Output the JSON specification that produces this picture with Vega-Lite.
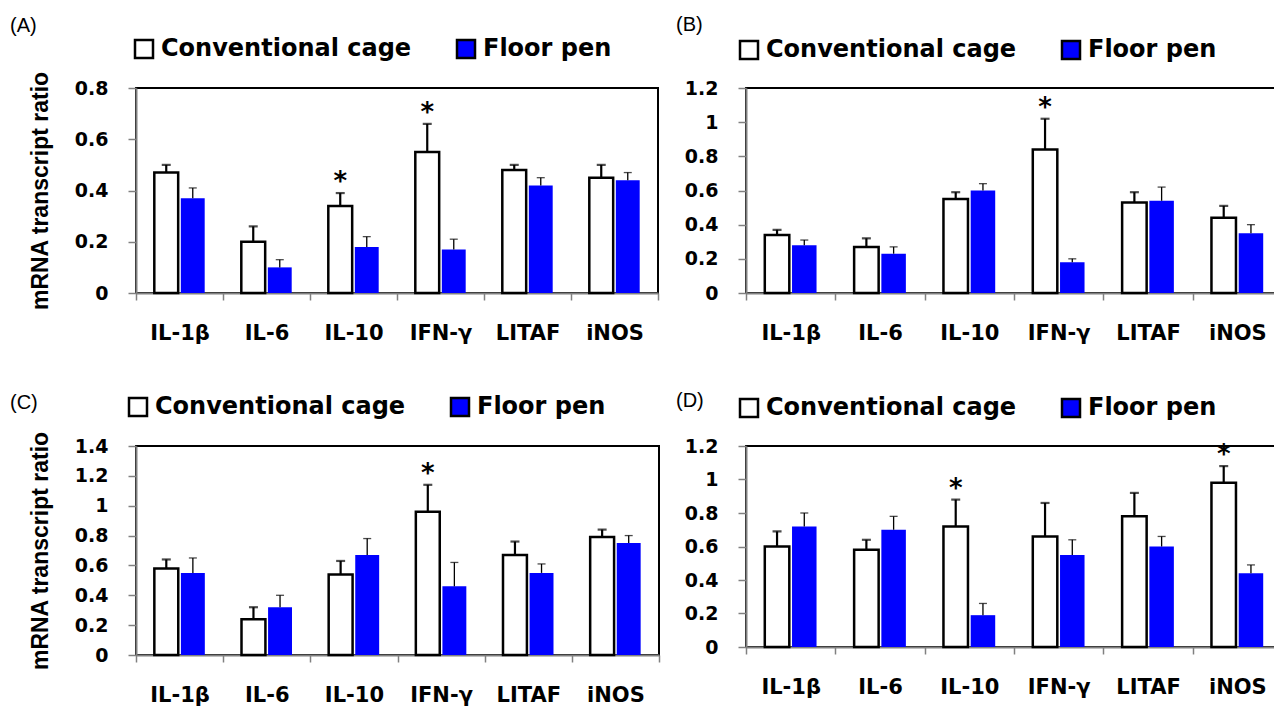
{
  "$schema": "https://vega.github.io/schema/vega-lite/v6.json",
  "background": "white",
  "padding": {"left": 9, "top": 14, "right": 0, "bottom": 0},
  "datasets": {
    "d": [
      {"panel":"A","gene":"IL-1β","group":"Conventional cage","value":0.47,"top":0.50,"sig":""},
      {"panel":"A","gene":"IL-1β","group":"Floor pen","value":0.37,"top":0.41,"sig":""},
      {"panel":"A","gene":"IL-6","group":"Conventional cage","value":0.20,"top":0.26,"sig":""},
      {"panel":"A","gene":"IL-6","group":"Floor pen","value":0.10,"top":0.13,"sig":""},
      {"panel":"A","gene":"IL-10","group":"Conventional cage","value":0.34,"top":0.39,"sig":"*"},
      {"panel":"A","gene":"IL-10","group":"Floor pen","value":0.18,"top":0.22,"sig":""},
      {"panel":"A","gene":"IFN-γ","group":"Conventional cage","value":0.55,"top":0.66,"sig":"*"},
      {"panel":"A","gene":"IFN-γ","group":"Floor pen","value":0.17,"top":0.21,"sig":""},
      {"panel":"A","gene":"LITAF","group":"Conventional cage","value":0.48,"top":0.50,"sig":""},
      {"panel":"A","gene":"LITAF","group":"Floor pen","value":0.42,"top":0.45,"sig":""},
      {"panel":"A","gene":"iNOS","group":"Conventional cage","value":0.45,"top":0.50,"sig":""},
      {"panel":"A","gene":"iNOS","group":"Floor pen","value":0.44,"top":0.47,"sig":""},

      {"panel":"B","gene":"IL-1β","group":"Conventional cage","value":0.34,"top":0.37,"sig":""},
      {"panel":"B","gene":"IL-1β","group":"Floor pen","value":0.28,"top":0.31,"sig":""},
      {"panel":"B","gene":"IL-6","group":"Conventional cage","value":0.27,"top":0.32,"sig":""},
      {"panel":"B","gene":"IL-6","group":"Floor pen","value":0.23,"top":0.27,"sig":""},
      {"panel":"B","gene":"IL-10","group":"Conventional cage","value":0.55,"top":0.59,"sig":""},
      {"panel":"B","gene":"IL-10","group":"Floor pen","value":0.60,"top":0.64,"sig":""},
      {"panel":"B","gene":"IFN-γ","group":"Conventional cage","value":0.84,"top":1.02,"sig":"*"},
      {"panel":"B","gene":"IFN-γ","group":"Floor pen","value":0.18,"top":0.20,"sig":""},
      {"panel":"B","gene":"LITAF","group":"Conventional cage","value":0.53,"top":0.59,"sig":""},
      {"panel":"B","gene":"LITAF","group":"Floor pen","value":0.54,"top":0.62,"sig":""},
      {"panel":"B","gene":"iNOS","group":"Conventional cage","value":0.44,"top":0.51,"sig":""},
      {"panel":"B","gene":"iNOS","group":"Floor pen","value":0.35,"top":0.40,"sig":""},

      {"panel":"C","gene":"IL-1β","group":"Conventional cage","value":0.58,"top":0.64,"sig":""},
      {"panel":"C","gene":"IL-1β","group":"Floor pen","value":0.55,"top":0.65,"sig":""},
      {"panel":"C","gene":"IL-6","group":"Conventional cage","value":0.24,"top":0.32,"sig":""},
      {"panel":"C","gene":"IL-6","group":"Floor pen","value":0.32,"top":0.40,"sig":""},
      {"panel":"C","gene":"IL-10","group":"Conventional cage","value":0.54,"top":0.63,"sig":""},
      {"panel":"C","gene":"IL-10","group":"Floor pen","value":0.67,"top":0.78,"sig":""},
      {"panel":"C","gene":"IFN-γ","group":"Conventional cage","value":0.96,"top":1.14,"sig":"*"},
      {"panel":"C","gene":"IFN-γ","group":"Floor pen","value":0.46,"top":0.62,"sig":""},
      {"panel":"C","gene":"LITAF","group":"Conventional cage","value":0.67,"top":0.76,"sig":""},
      {"panel":"C","gene":"LITAF","group":"Floor pen","value":0.55,"top":0.61,"sig":""},
      {"panel":"C","gene":"iNOS","group":"Conventional cage","value":0.79,"top":0.84,"sig":""},
      {"panel":"C","gene":"iNOS","group":"Floor pen","value":0.75,"top":0.80,"sig":""},

      {"panel":"D","gene":"IL-1β","group":"Conventional cage","value":0.60,"top":0.69,"sig":""},
      {"panel":"D","gene":"IL-1β","group":"Floor pen","value":0.72,"top":0.80,"sig":""},
      {"panel":"D","gene":"IL-6","group":"Conventional cage","value":0.58,"top":0.64,"sig":""},
      {"panel":"D","gene":"IL-6","group":"Floor pen","value":0.70,"top":0.78,"sig":""},
      {"panel":"D","gene":"IL-10","group":"Conventional cage","value":0.72,"top":0.88,"sig":"*"},
      {"panel":"D","gene":"IL-10","group":"Floor pen","value":0.19,"top":0.26,"sig":""},
      {"panel":"D","gene":"IFN-γ","group":"Conventional cage","value":0.66,"top":0.86,"sig":""},
      {"panel":"D","gene":"IFN-γ","group":"Floor pen","value":0.55,"top":0.64,"sig":""},
      {"panel":"D","gene":"LITAF","group":"Conventional cage","value":0.78,"top":0.92,"sig":""},
      {"panel":"D","gene":"LITAF","group":"Floor pen","value":0.60,"top":0.66,"sig":""},
      {"panel":"D","gene":"iNOS","group":"Conventional cage","value":0.98,"top":1.08,"sig":"*"},
      {"panel":"D","gene":"iNOS","group":"Floor pen","value":0.44,"top":0.49,"sig":""}
    ]
  },
  "bounds": "flush",
  "spacing": 358,
  "resolve": {
    "scale": {"x": "independent", "y": "independent", "xOffset": "independent", "fill": "independent"},
    "axis": {"x": "independent", "y": "independent"},
    "legend": {"fill": "independent"}
  },
  "vconcat": [
    {
      "bounds": "flush",
      "spacing": 88,
      "resolve": {
        "scale": {"x": "independent", "y": "independent", "xOffset": "independent", "fill": "independent"},
        "axis": {"x": "independent", "y": "independent"},
        "legend": {"fill": "independent"}
      },
      "hconcat": [
        {
          "width": 522, "height": 205,
          "title": {"text": "(A)", "anchor": "start", "frame": "group", "dx": -126, "dy": 3},
          "data": {"name": "d"},
          "transform": [{"filter": "datum.panel === 'A'"}],
          "encoding": {
            "x": {"field": "gene", "type": "nominal", "sort": ["IL-1β","IL-6","IL-10","IFN-γ","LITAF","iNOS"], "scale": {"paddingInner": 0, "paddingOuter": 0}, "axis": {"title": null}},
            "xOffset": {"field": "group", "type": "nominal", "scale": {"domain": ["Conventional cage","Floor pen"], "paddingInner": 0.1, "paddingOuter": 0.69}}
          },
          "layer": [
            {
              "mark": {"type": "bar"},
              "encoding": {
                "y": {"field": "value", "type": "quantitative", "scale": {"domain": [0, 0.8]}, "axis": {"title": "mRNA transcript ratio", "values": [0,0.2,0.4,0.6,0.8], "format": "~g"}},
                "fill": {"field": "group", "type": "nominal", "scale": {"domain": ["Conventional cage","Floor pen"], "range": ["white","#0000FF"]},
                  "legend": {"legendX": -4, "legendY": -51}},
                "stroke": {"condition": {"test": "datum.group === 'Conventional cage'", "value": "black"}, "value": null}
              }
            },
            {
              "mark": {"type": "rule", "color": "black"},
              "encoding": {
                "y": {"field": "value", "type": "quantitative", "scale": {"domain": [0, 0.8]}, "axis": {"title": "mRNA transcript ratio", "values": [0,0.2,0.4,0.6,0.8], "format": "~g"}},
                "y2": {"field": "top"},
                "strokeWidth": {"condition": {"test": "datum.group === 'Conventional cage'", "value": 2.2}, "value": 1.3}
              }
            },
            {
              "transform": [{"filter": "datum.group === 'Conventional cage'"}],
              "mark": {"type": "tick", "color": "black", "thickness": 2.2, "size": 9},
              "encoding": {"y": {"field": "top", "type": "quantitative", "scale": {"domain": [0, 0.8]}, "axis": {"title": "mRNA transcript ratio", "values": [0,0.2,0.4,0.6,0.8], "format": "~g"}}}
            },
            {
              "transform": [{"filter": "datum.group === 'Floor pen'"}],
              "mark": {"type": "tick", "color": "black", "thickness": 1.3, "size": 8},
              "encoding": {"y": {"field": "top", "type": "quantitative", "scale": {"domain": [0, 0.8]}, "axis": {"title": "mRNA transcript ratio", "values": [0,0.2,0.4,0.6,0.8], "format": "~g"}}}
            },
            {
              "transform": [{"filter": "datum.sig === '*'"}],
              "mark": {"type": "text", "font": "DejaVu Sans", "fontSize": 26, "fontWeight": "bold", "baseline": "alphabetic", "dy": -3, "color": "black"},
              "encoding": {"y": {"field": "top", "type": "quantitative", "scale": {"domain": [0, 0.8]}, "axis": {"title": "mRNA transcript ratio", "values": [0,0.2,0.4,0.6,0.8], "format": "~g"}}, "text": {"field": "sig"}}
            }
          ]
        },
        {
          "width": 536, "height": 205,
          "title": {"text": "(B)", "anchor": "start", "frame": "group", "dx": -70, "dy": 1},
          "data": {"name": "d"},
          "transform": [{"filter": "datum.panel === 'B'"}],
          "encoding": {
            "x": {"field": "gene", "type": "nominal", "sort": ["IL-1β","IL-6","IL-10","IFN-γ","LITAF","iNOS"], "scale": {"paddingInner": 0, "paddingOuter": 0}, "axis": {"title": null}},
            "xOffset": {"field": "group", "type": "nominal", "scale": {"domain": ["Conventional cage","Floor pen"], "paddingInner": 0.1, "paddingOuter": 0.69}}
          },
          "layer": [
            {
              "mark": {"type": "bar"},
              "encoding": {
                "y": {"field": "value", "type": "quantitative", "scale": {"domain": [0, 1.2]}, "axis": {"title": null, "values": [0,0.2,0.4,0.6,0.8,1,1.2], "format": "~g"}},
                "fill": {"field": "group", "type": "nominal", "scale": {"domain": ["Conventional cage","Floor pen"], "range": ["white","#0000FF"]},
                  "legend": {"legendX": -9, "legendY": -50}},
                "stroke": {"condition": {"test": "datum.group === 'Conventional cage'", "value": "black"}, "value": null}
              }
            },
            {
              "mark": {"type": "rule", "color": "black"},
              "encoding": {
                "y": {"field": "value", "type": "quantitative", "scale": {"domain": [0, 1.2]}, "axis": {"title": null, "values": [0,0.2,0.4,0.6,0.8,1,1.2], "format": "~g"}},
                "y2": {"field": "top"},
                "strokeWidth": {"condition": {"test": "datum.group === 'Conventional cage'", "value": 2.2}, "value": 1.3}
              }
            },
            {
              "transform": [{"filter": "datum.group === 'Conventional cage'"}],
              "mark": {"type": "tick", "color": "black", "thickness": 2.2, "size": 9},
              "encoding": {"y": {"field": "top", "type": "quantitative", "scale": {"domain": [0, 1.2]}, "axis": {"title": null, "values": [0,0.2,0.4,0.6,0.8,1,1.2], "format": "~g"}}}
            },
            {
              "transform": [{"filter": "datum.group === 'Floor pen'"}],
              "mark": {"type": "tick", "color": "black", "thickness": 1.3, "size": 8},
              "encoding": {"y": {"field": "top", "type": "quantitative", "scale": {"domain": [0, 1.2]}, "axis": {"title": null, "values": [0,0.2,0.4,0.6,0.8,1,1.2], "format": "~g"}}}
            },
            {
              "transform": [{"filter": "datum.sig === '*'"}],
              "mark": {"type": "text", "font": "DejaVu Sans", "fontSize": 26, "fontWeight": "bold", "baseline": "alphabetic", "dy": -3, "color": "black"},
              "encoding": {"y": {"field": "top", "type": "quantitative", "scale": {"domain": [0, 1.2]}, "axis": {"title": null, "values": [0,0.2,0.4,0.6,0.8,1,1.2], "format": "~g"}}, "text": {"field": "sig"}}
            }
          ]
        }
      ]
    },
    {
      "bounds": "flush",
      "spacing": 87,
      "resolve": {
        "scale": {"x": "independent", "y": "independent", "xOffset": "independent", "fill": "independent"},
        "axis": {"x": "independent", "y": "independent"},
        "legend": {"fill": "independent"}
      },
      "hconcat": [
        {
          "width": 523, "height": 209,
          "title": {"text": "(C)", "anchor": "start", "frame": "group", "dx": -126, "dy": 22},
          "data": {"name": "d"},
          "transform": [{"filter": "datum.panel === 'C'"}],
          "encoding": {
            "x": {"field": "gene", "type": "nominal", "sort": ["IL-1β","IL-6","IL-10","IFN-γ","LITAF","iNOS"], "scale": {"paddingInner": 0, "paddingOuter": 0}, "axis": {"title": null}},
            "xOffset": {"field": "group", "type": "nominal", "scale": {"domain": ["Conventional cage","Floor pen"], "paddingInner": 0.1, "paddingOuter": 0.69}}
          },
          "layer": [
            {
              "mark": {"type": "bar"},
              "encoding": {
                "y": {"field": "value", "type": "quantitative", "scale": {"domain": [0, 1.4]}, "axis": {"title": "mRNA transcript ratio", "values": [0,0.2,0.4,0.6,0.8,1,1.2,1.4], "format": "~g"}},
                "fill": {"field": "group", "type": "nominal", "scale": {"domain": ["Conventional cage","Floor pen"], "range": ["white","#0000FF"]},
                  "legend": {"legendX": -10, "legendY": -51}},
                "stroke": {"condition": {"test": "datum.group === 'Conventional cage'", "value": "black"}, "value": null}
              }
            },
            {
              "mark": {"type": "rule", "color": "black"},
              "encoding": {
                "y": {"field": "value", "type": "quantitative", "scale": {"domain": [0, 1.4]}, "axis": {"title": "mRNA transcript ratio", "values": [0,0.2,0.4,0.6,0.8,1,1.2,1.4], "format": "~g"}},
                "y2": {"field": "top"},
                "strokeWidth": {"condition": {"test": "datum.group === 'Conventional cage'", "value": 2.2}, "value": 1.3}
              }
            },
            {
              "transform": [{"filter": "datum.group === 'Conventional cage'"}],
              "mark": {"type": "tick", "color": "black", "thickness": 2.2, "size": 9},
              "encoding": {"y": {"field": "top", "type": "quantitative", "scale": {"domain": [0, 1.4]}, "axis": {"title": "mRNA transcript ratio", "values": [0,0.2,0.4,0.6,0.8,1,1.2,1.4], "format": "~g"}}}
            },
            {
              "transform": [{"filter": "datum.group === 'Floor pen'"}],
              "mark": {"type": "tick", "color": "black", "thickness": 1.3, "size": 8},
              "encoding": {"y": {"field": "top", "type": "quantitative", "scale": {"domain": [0, 1.4]}, "axis": {"title": "mRNA transcript ratio", "values": [0,0.2,0.4,0.6,0.8,1,1.2,1.4], "format": "~g"}}}
            },
            {
              "transform": [{"filter": "datum.sig === '*'"}],
              "mark": {"type": "text", "font": "DejaVu Sans", "fontSize": 26, "fontWeight": "bold", "baseline": "alphabetic", "dy": -3, "color": "black"},
              "encoding": {"y": {"field": "top", "type": "quantitative", "scale": {"domain": [0, 1.4]}, "axis": {"title": "mRNA transcript ratio", "values": [0,0.2,0.4,0.6,0.8,1,1.2,1.4], "format": "~g"}}, "text": {"field": "sig"}}
            }
          ]
        },
        {
          "width": 536, "height": 201,
          "title": {"text": "(D)", "anchor": "start", "frame": "group", "dx": -70, "dy": 19},
          "data": {"name": "d"},
          "transform": [{"filter": "datum.panel === 'D'"}],
          "encoding": {
            "x": {"field": "gene", "type": "nominal", "sort": ["IL-1β","IL-6","IL-10","IFN-γ","LITAF","iNOS"], "scale": {"paddingInner": 0, "paddingOuter": 0}, "axis": {"title": null}},
            "xOffset": {"field": "group", "type": "nominal", "scale": {"domain": ["Conventional cage","Floor pen"], "paddingInner": 0.1, "paddingOuter": 0.69}}
          },
          "layer": [
            {
              "mark": {"type": "bar"},
              "encoding": {
                "y": {"field": "value", "type": "quantitative", "scale": {"domain": [0, 1.2]}, "axis": {"title": null, "values": [0,0.2,0.4,0.6,0.8,1,1.2], "format": "~g"}},
                "fill": {"field": "group", "type": "nominal", "scale": {"domain": ["Conventional cage","Floor pen"], "range": ["white","#0000FF"]},
                  "legend": {"legendX": -9, "legendY": -50}},
                "stroke": {"condition": {"test": "datum.group === 'Conventional cage'", "value": "black"}, "value": null}
              }
            },
            {
              "mark": {"type": "rule", "color": "black"},
              "encoding": {
                "y": {"field": "value", "type": "quantitative", "scale": {"domain": [0, 1.2]}, "axis": {"title": null, "values": [0,0.2,0.4,0.6,0.8,1,1.2], "format": "~g"}},
                "y2": {"field": "top"},
                "strokeWidth": {"condition": {"test": "datum.group === 'Conventional cage'", "value": 2.2}, "value": 1.3}
              }
            },
            {
              "transform": [{"filter": "datum.group === 'Conventional cage'"}],
              "mark": {"type": "tick", "color": "black", "thickness": 2.2, "size": 9},
              "encoding": {"y": {"field": "top", "type": "quantitative", "scale": {"domain": [0, 1.2]}, "axis": {"title": null, "values": [0,0.2,0.4,0.6,0.8,1,1.2], "format": "~g"}}}
            },
            {
              "transform": [{"filter": "datum.group === 'Floor pen'"}],
              "mark": {"type": "tick", "color": "black", "thickness": 1.3, "size": 8},
              "encoding": {"y": {"field": "top", "type": "quantitative", "scale": {"domain": [0, 1.2]}, "axis": {"title": null, "values": [0,0.2,0.4,0.6,0.8,1,1.2], "format": "~g"}}}
            },
            {
              "transform": [{"filter": "datum.sig === '*'"}],
              "mark": {"type": "text", "font": "DejaVu Sans", "fontSize": 26, "fontWeight": "bold", "baseline": "alphabetic", "dy": -3, "color": "black"},
              "encoding": {"y": {"field": "top", "type": "quantitative", "scale": {"domain": [0, 1.2]}, "axis": {"title": null, "values": [0,0.2,0.4,0.6,0.8,1,1.2], "format": "~g"}}, "text": {"field": "sig"}}
            }
          ]
        }
      ]
    }
  ],
  "config": {
    "font": "DejaVu Sans",
    "view": {"stroke": "black", "strokeWidth": 2},
    "bar": {"strokeWidth": 2.5},
    "title": {"font": "Liberation Sans", "fontSize": 20, "fontWeight": "normal", "color": "black", "offset": 0},
    "axis": {"grid": false, "domainColor": "#808080", "domainWidth": 2, "tickColor": "#808080", "tickWidth": 1.5, "labelColor": "black", "labelFont": "DejaVu Sans", "labelFontWeight": "bold"},
    "axisX": {"labelFontSize": 21, "labelAngle": 0, "labelPadding": 22, "tickSize": 7, "tickBand": "extent"},
    "axisY": {"labelFontSize": 19, "labelPadding": 20, "tickSize": 8, "titleFont": "Liberation Sans", "titleFontSize": 23, "titleFontWeight": "bold", "titleColor": "black", "titlePadding": 22},
    "legend": {"title": null, "orient": "none", "direction": "horizontal", "symbolType": "square", "symbolSize": 324, "symbolStrokeColor": "black", "symbolStrokeWidth": 1.5, "labelFont": "DejaVu Sans", "labelFontSize": 24, "labelFontWeight": "bold", "labelColor": "black", "labelLimit": 400, "labelOffset": 5, "columnPadding": 40, "padding": 0,
      "symbolFillColor": "white"}
  }
}
